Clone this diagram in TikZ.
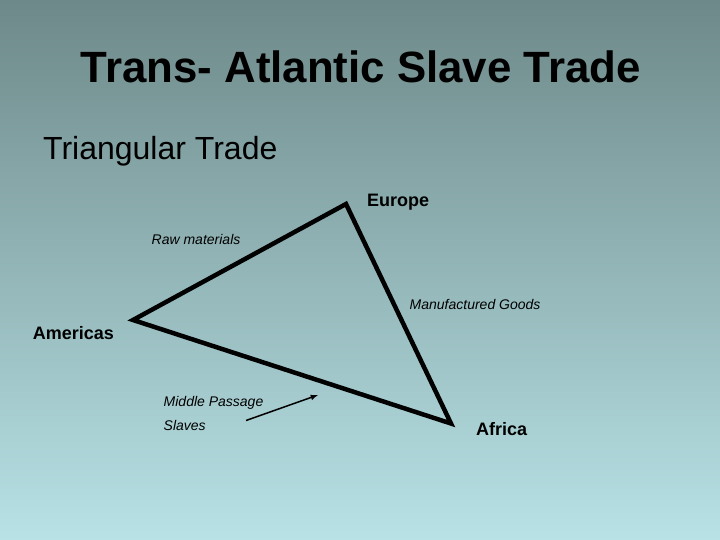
\documentclass[tikz,border=0pt]{standalone}
\usepackage{fontspec}
\setmainfont{Liberation Sans}

\def\slideWidth{720}
\def\slideHeight{540}

\definecolor{slideTop}{RGB}{110,137,137}
\definecolor{slideBottom}{RGB}{184,226,230}

\tikzset{
  place/.style={anchor=base west, inner sep=0pt,
    font=\fontsize{18bp}{21bp}\selectfont\bfseries},
  route/.style={anchor=base west, inner sep=0pt,
    font=\fontsize{14bp}{17bp}\selectfont\itshape},
}

\begin{document}
\begin{tikzpicture}[x=1bp, y=-1bp]
      \shade [top color=slideTop, bottom color=slideBottom]
        (0,0) rectangle (\slideWidth, \slideHeight)
      ;

      \node [anchor=base, inner sep=0pt,
        font=\fontsize{43.8bp}{52bp}\selectfont\bfseries]
        (title) at (360.8, 83) {Trans- Atlantic Slave Trade}
      ;
      \node [anchor=base west, inner sep=0pt,
        font=\fontsize{32bp}{38bp}\selectfont]
        (subtitle) at (43, 160) {Triangular Trade}
      ;

      \coordinate (europe) at (346, 204);
      \coordinate (americas) at (133, 320);
      \coordinate (africa) at (451, 423.5);

      \draw [line width=4.5bp, line join=miter]
        (europe) -- (africa) -- (americas) -- cycle
      ;

      \node [place] (europeLabel) at (367, 206.3) {Europe};
      \node [place] (americasLabel) at (32.7, 339) {Americas};
      \node [place] (africaLabel) at (476, 435) {Africa};

      \node [route] (rawLabel) at (151.5, 245) {Raw materials};
      \node [route] (goodsLabel) at (409.5, 309.3) {Manufactured Goods};
      \node [route] (passageLabel) at (163.5, 406.7) {Middle Passage};
      \node [route] (slavesLabel) at (163.5, 430.7) {Slaves};

      \coordinate (passFrom) at (246, 420.5);
      \coordinate (passTo) at (318, 395);
      \draw [-latex, line width=1.5bp]
        (passFrom) -- (passTo)
      ;
    \end{tikzpicture}
\end{document}
